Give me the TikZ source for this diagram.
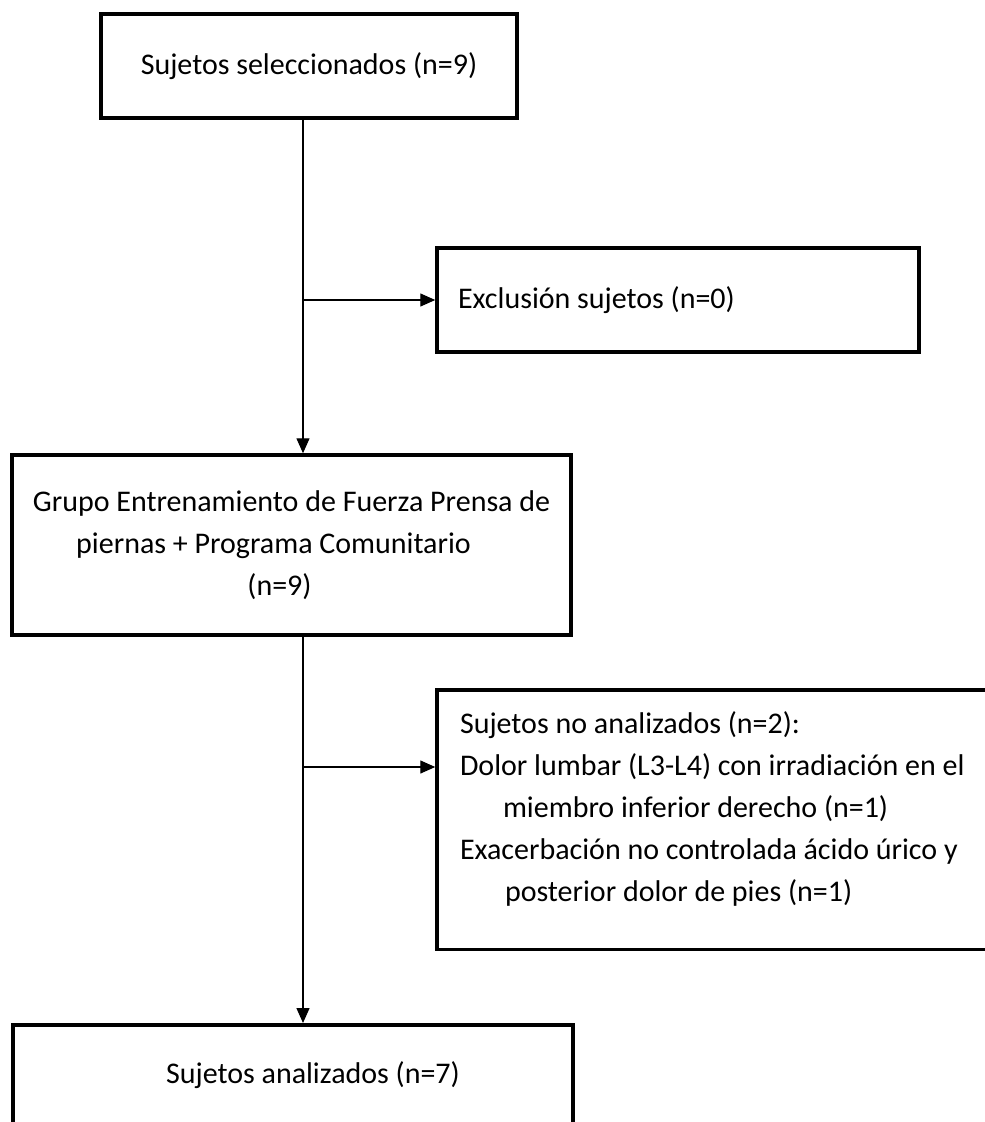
\documentclass[tikz,border=0pt]{standalone}
\usepackage{fontspec}
\setmainfont{Carlito}
\usetikzlibrary{arrows.meta}

\begin{document}
\begin{tikzpicture}[x=1pt,y=1pt,
  box/.style={draw, line width=3.5pt, font=\fontsize{30}{42}\selectfont},
  conn/.style={line width=1.4pt},
  >={Triangle[length=15pt,width=13pt]}]
\useasboundingbox (0,0) rectangle (985,-1122);
\clip (0,0) rectangle (985,-1122);

\node[box, minimum width=416pt, minimum height=104pt] (a) at (309,-66) {Sujetos seleccionados (n=9)};
\node[box, minimum height=104pt, text width=440pt, inner xsep=21pt, align=flush left] (b) at (678,-300) {Exclusión sujetos (n=0)};
\node[box, minimum width=559pt, minimum height=180pt, align=center] (c) at (291.5,-545) {Grupo Entrenamiento de Fuerza Prensa de\\piernas + Programa Comunitario\makebox[36pt]{}\\(n=9)\makebox[24pt]{}};
\node[box, anchor=north, text width=560pt, inner xsep=23pt, inner ysep=22pt, text depth=194pt, align=flush left] (d) at (740,-688) {Sujetos no analizados (n=2):\\
Dolor lumbar (L3-L4) con irradiación en el\\
\hspace*{43pt}miembro inferior derecho (n=1)\\
Exacerbación no controlada ácido úrico y\\
\hspace*{45pt}posterior dolor de pies (n=1)};
\node[box, anchor=north, minimum width=560pt, inner ysep=37pt, text depth=160pt] (e) at (293,-1023) {\hspace*{40pt}Sujetos analizados (n=7)};

\coordinate (p) at (303,-300);
\coordinate (q) at (303,-767);

\draw[conn,->] (a.south -| p) -- (c.north -| p);
\draw[conn,->] (p) -- (b.west);
\draw[conn,->] (c.south -| q) -- (e.north -| q);
\draw[conn,->] (q) -- (q -| d.west);
\end{tikzpicture}
\end{document}
